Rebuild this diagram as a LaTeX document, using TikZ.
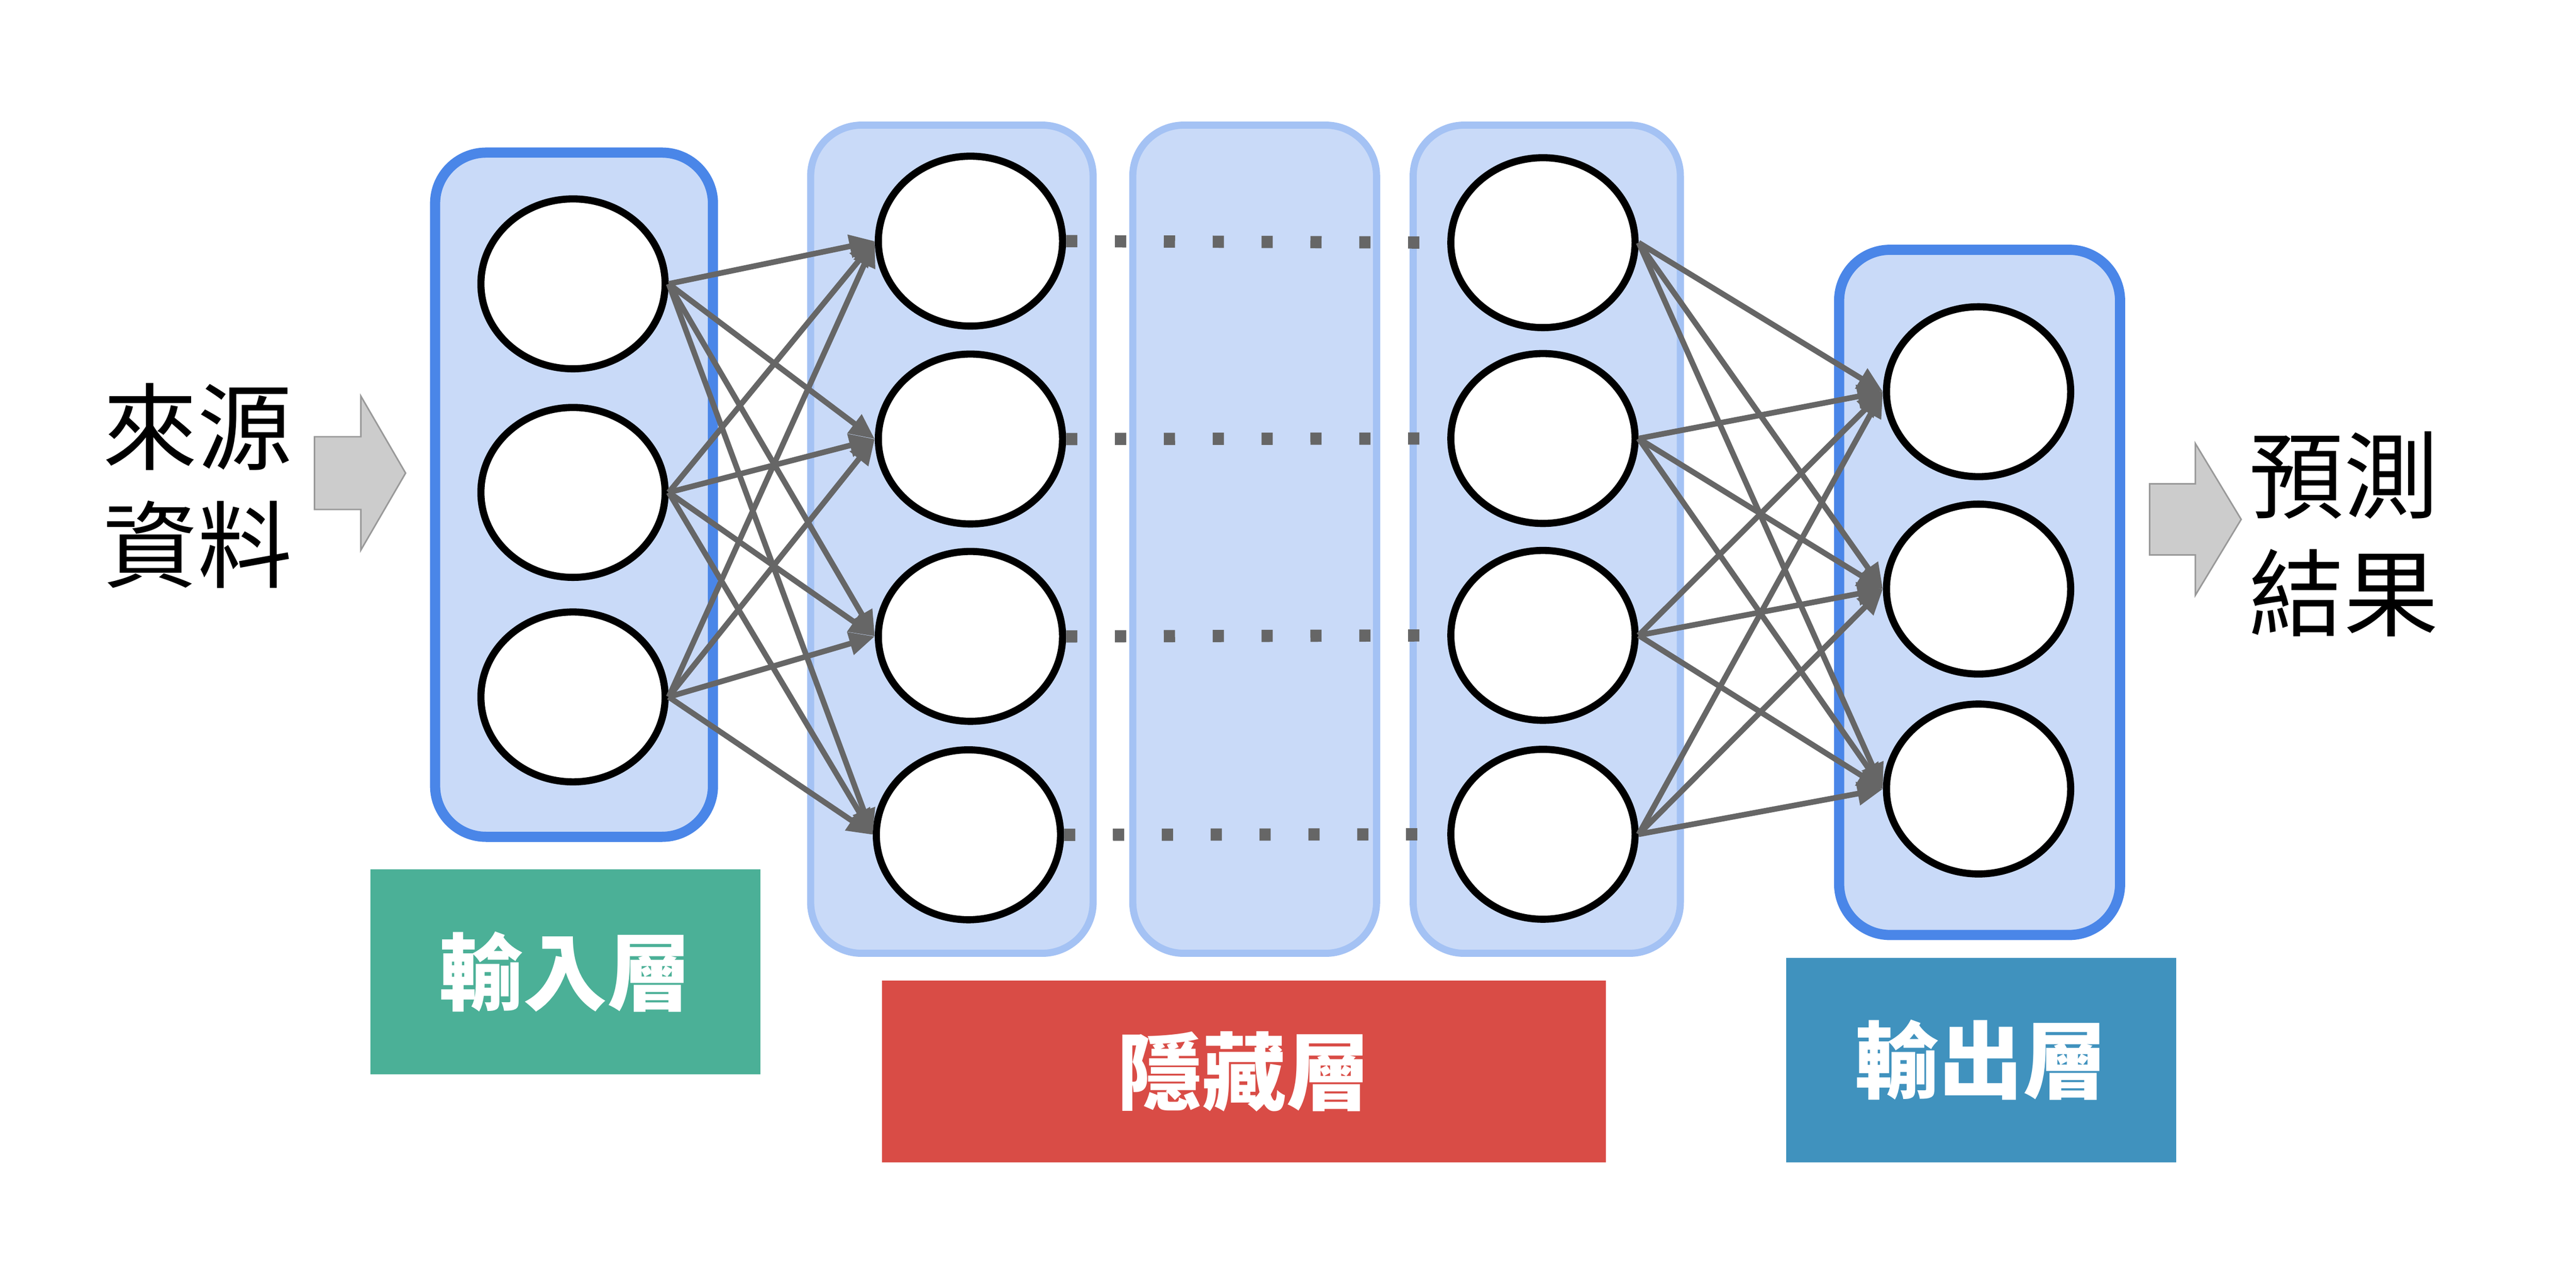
\documentclass[tikz,border=0pt]{standalone}
\usepackage{fontspec}
\newfontfamily\cjk{Noto Sans CJK TC}
\usetikzlibrary{shapes.geometric, arrows.meta}
\definecolor{boxfill}{HTML}{C9DAF8}
\definecolor{ioline}{HTML}{4A86E8}
\definecolor{hidline}{HTML}{A4C2F4}
\definecolor{linkgray}{HTML}{666666}
\definecolor{taggreen}{HTML}{4BB097}
\definecolor{tagred}{HTML}{D94C46}
\definecolor{tagblue}{HTML}{4092BE}

\begin{document}
\begin{tikzpicture}[x=1cm,y=-1cm,
		neuron/.style={draw,ellipse,line width=0.14cm,fill=white,minimum width=3.62cm,minimum height=3.34cm,inner sep=0pt},
		link/.style={draw=linkgray,line width=0.11cm,-{Triangle[length=0.5cm,width=0.44cm]}},
		dots/.style={draw=linkgray,line width=0.24cm,dash pattern=on 0.22cm off 0.74cm},
		tag/.style={inner sep=0pt,text=white,font=\cjk\bfseries\fontsize{47}{56}\selectfont},
		fatarrow/.style={draw=black!40,fill=black!20,line width=0.03cm}]
		\useasboundingbox (0,0) rectangle (50.62,24.96);
	
		% layer boxes
		\begin{scope}[every node/.style={fill=boxfill,rounded corners=1cm,inner sep=0pt}]
			\node[draw=ioline,line width=0.2cm,minimum width=5.46cm,minimum height=13.45cm] (inbox) at (11.28,9.725) {};
			\node[draw=hidline,line width=0.14cm,minimum width=5.55cm,minimum height=16.28cm] (hbox) at (18.705,10.6) {};
			\node[draw=hidline,line width=0.14cm,minimum width=4.79cm,minimum height=16.28cm] (mbox) at (24.655,10.6) {};
			\node[draw=hidline,line width=0.14cm,minimum width=5.25cm,minimum height=16.28cm] (kbox) at (30.395,10.6) {};
			\node[draw=ioline,line width=0.2cm,minimum width=5.52cm,minimum height=13.47cm] (outbox) at (38.9,11.645) {};
		\end{scope}
	
		% neurons
		\begin{scope}[every node/.style=neuron]
			\node (i1) at (11.26,5.58) {};
			\node (i2) at (11.26,9.68) {};
			\node (i3) at (11.26,13.70) {};
			\node (h1) at (19.07,4.74) {};
			\node (h2) at (19.07,8.63) {};
			\node (h3) at (19.07,12.51) {};
			\node (h4) at (19.03,16.41) {};
			\node (k1) at (30.32,4.77) {};
			\node (k2) at (30.32,8.62) {};
			\node (k3) at (30.32,12.49) {};
			\node (k4) at (30.32,16.40) {};
			\node (o1) at (38.88,7.70) {};
			\node (o2) at (38.88,11.58) {};
			\node (o3) at (38.88,15.51) {};
		\end{scope}
	
		\foreach \a in {1,2,3}
			\foreach \b in {1,2,3,4} {
				\draw[link] (i\a.east) -- (h\b.west);
				\draw[link] (k\b.east) -- (o\a.west);
			}
		\foreach \b in {1,2,3,4}
			\draw[dots] (h\b.east) -- (k\b.west);
	
		% source and result
		\node[align=center,font=\cjk\fontsize{53}{66}\selectfont] (src) at (3.88,9.55) {來源\\資料};
		\node[align=center,font=\cjk\fontsize{53}{66}\selectfont] (res) at (46.06,10.50) {預測\\結果};
		\draw[fatarrow] (6.18,8.585) -- (7.09,8.585) -- (7.09,7.785) -- (7.97,9.30)
			-- (7.09,10.815) -- (7.09,10.015) -- (6.18,10.015) -- cycle;
		\draw[fatarrow] (42.24,9.51) -- (43.14,9.51) -- (43.14,8.72) -- (44.04,10.21)
			-- (43.14,11.70) -- (43.14,10.91) -- (42.24,10.91) -- cycle;
	
		% layer tags
		\node[tag,fill=taggreen,minimum width=7.66cm,minimum height=4.03cm] (intag) at (11.11,19.105) {輸入層};
		\node[tag,fill=tagred,minimum width=14.23cm,minimum height=3.57cm] (hidtag) at (24.445,21.065) {隱藏層};
		\node[tag,fill=tagblue,minimum width=7.66cm,minimum height=4.02cm] (outtag) at (38.93,20.84) {輸出層};
	\end{tikzpicture}
\end{document}
